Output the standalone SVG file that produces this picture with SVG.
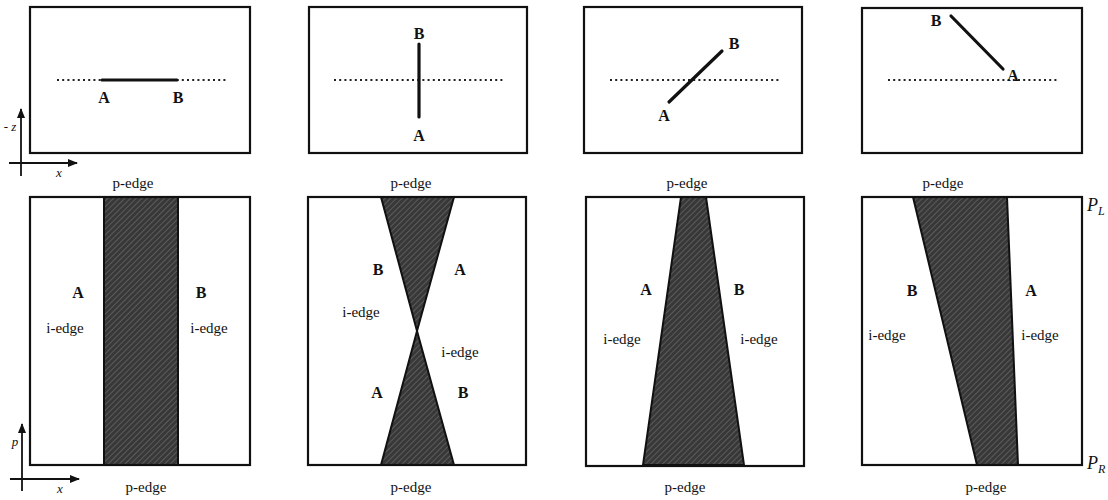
<svg xmlns="http://www.w3.org/2000/svg" width="1108" height="500" viewBox="0 0 1108 500">
<style>
.box{fill:none;stroke:#111;stroke-width:2.2}
.seg{stroke:#111;stroke-width:3.2;stroke-linecap:round}
.dot{stroke:#222;stroke-width:2;stroke-dasharray:2 3.2;fill:none}
.sh{fill:url(#hatch);stroke:#111;stroke-width:2;stroke-linejoin:miter}
.ax{stroke:#111;stroke-width:1.8;fill:none}
text{font-family:"Liberation Serif","DejaVu Serif","Times New Roman",serif;fill:#111;text-anchor:middle}
.lb{font-size:16px;font-weight:bold}
.ed{font-size:15px}
.it{font-size:13px;font-style:italic}
.pl{font-size:18px;font-style:italic;text-anchor:start}
</style>
<defs>
<pattern id="hatch" width="4" height="4" patternUnits="userSpaceOnUse" patternTransform="rotate(45)">
<rect width="4" height="4" fill="#383838"/>
<line x1="0" y1="0" x2="0" y2="4" stroke="#6a6a6a" stroke-width="1.4"/>
</pattern>
<marker id="arr" markerWidth="10" markerHeight="10" refX="9" refY="5" orient="auto" markerUnits="userSpaceOnUse">
<path d="M0,1 L10,5 L0,9 Z" fill="#111"/>
</marker>
</defs>

<g id="axes-top">
<line class="ax" x1="21" y1="176" x2="21" y2="109" marker-end="url(#arr)"/>
<line class="ax" x1="9" y1="163" x2="77" y2="163" marker-end="url(#arr)"/>
<text class="it" x="10" y="131">- z</text>
<text class="it" x="59" y="177">x</text>
</g>
<g id="axes-bottom">
<line class="ax" x1="22" y1="491" x2="22" y2="424" marker-end="url(#arr)"/>
<line class="ax" x1="10" y1="479" x2="79" y2="479" marker-end="url(#arr)"/>
<text class="it" x="15" y="446">p</text>
<text class="it" x="60" y="493">x</text>
</g>

<g id="top1">
<rect class="box" x="30" y="7" width="220" height="146"/>
<line class="dot" x1="57" y1="80" x2="228" y2="80"/>
<line class="seg" x1="102" y1="80" x2="177" y2="80"/>
<text class="lb" x="104" y="103">A</text>
<text class="lb" x="178" y="103">B</text>
<text class="ed" x="133" y="188">p-edge</text>
</g>
<g id="top2">
<rect class="box" x="309" y="7" width="218" height="146"/>
<line class="dot" x1="334" y1="80" x2="503" y2="80"/>
<line class="seg" x1="419" y1="44" x2="419" y2="117"/>
<text class="lb" x="419" y="39">B</text>
<text class="lb" x="419" y="141">A</text>
<text class="ed" x="411" y="188">p-edge</text>
</g>
<g id="top3">
<rect class="box" x="584" y="7" width="218" height="146"/>
<line class="dot" x1="610" y1="80" x2="779" y2="80"/>
<line class="seg" x1="669" y1="102" x2="722" y2="51"/>
<text class="lb" x="734" y="49">B</text>
<text class="lb" x="664" y="121">A</text>
<text class="ed" x="687" y="188">p-edge</text>
</g>
<g id="top4">
<rect class="box" x="862" y="8" width="220" height="145"/>
<line class="dot" x1="888" y1="80" x2="1058" y2="80"/>
<line class="seg" x1="951" y1="16" x2="1003" y2="69"/>
<text class="lb" x="936" y="26">B</text>
<text class="lb" x="1013" y="81">A</text>
<text class="ed" x="943" y="188">p-edge</text>
</g>

<g id="bot1">
<rect class="sh" x="104" y="197" width="74" height="268"/>
<rect class="box" x="30" y="197" width="220" height="268"/>
<text class="lb" x="78" y="298">A</text>
<text class="ed" x="65" y="333">i-edge</text>
<text class="lb" x="201" y="298">B</text>
<text class="ed" x="209" y="333">i-edge</text>
<text class="ed" x="146" y="492">p-edge</text>
</g>
<g id="bot2">
<polygon class="sh" points="381,197 454,197 417,331"/>
<polygon class="sh" points="417,331 454,465 381,465"/>
<rect class="box" x="308" y="197" width="218" height="268"/>
<text class="lb" x="378" y="275">B</text>
<text class="lb" x="460" y="275">A</text>
<text class="ed" x="361" y="317">i-edge</text>
<text class="ed" x="460" y="357">i-edge</text>
<text class="lb" x="377" y="398">A</text>
<text class="lb" x="463" y="398">B</text>
<text class="ed" x="411" y="492">p-edge</text>
</g>
<g id="bot3">
<polygon class="sh" points="681,197 706,197 744,465 643,465"/>
<rect class="box" x="586" y="197" width="218" height="269"/>
<text class="lb" x="646" y="295">A</text>
<text class="lb" x="739" y="295">B</text>
<text class="ed" x="622" y="344">i-edge</text>
<text class="ed" x="759" y="344">i-edge</text>
<text class="ed" x="685" y="492">p-edge</text>
</g>
<g id="bot4">
<polygon class="sh" points="913,197 1007,197 1018,465 977,465"/>
<rect class="box" x="862" y="197" width="220" height="268"/>
<text class="lb" x="912" y="296">B</text>
<text class="lb" x="1031" y="296">A</text>
<text class="ed" x="887" y="340">i-edge</text>
<text class="ed" x="1040" y="340">i-edge</text>
<text class="ed" x="986" y="492">p-edge</text>
<text class="pl" x="1087" y="211">P<tspan font-size="12" dy="4">L</tspan></text>
<text class="pl" x="1087" y="469">P<tspan font-size="12" dy="4">R</tspan></text>
</g>
</svg>
